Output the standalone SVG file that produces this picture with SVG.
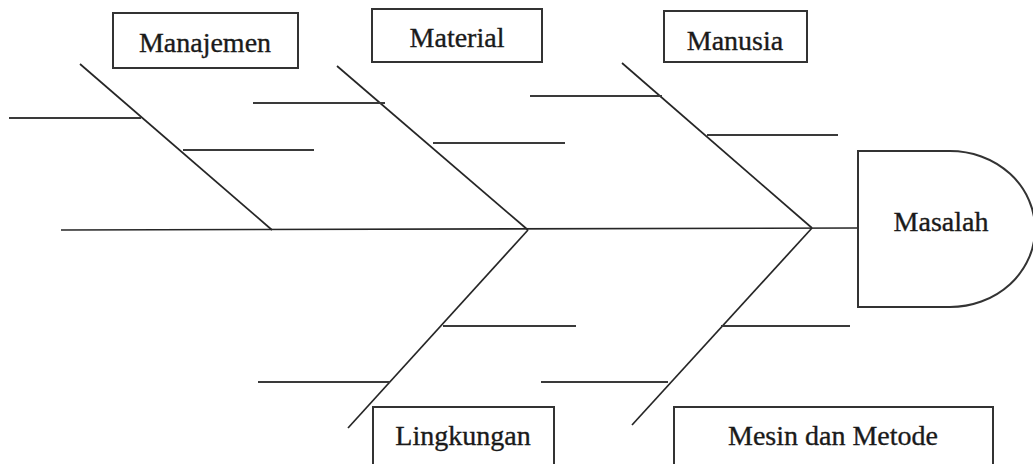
<svg xmlns="http://www.w3.org/2000/svg" width="1033" height="464" viewBox="0 0 1033 464">
<style>
.bone{stroke:#262626;stroke-width:1.7;fill:none;stroke-linecap:butt}
.sub{stroke:#3a3a3a;stroke-width:2;fill:none}
.box{fill:#ffffff;stroke:#333333;stroke-width:2}
.lbl{font-family:"Liberation Serif","Times New Roman",serif;font-size:28px;fill:#1a1a1a;stroke:#1a1a1a;stroke-width:0.35;text-anchor:middle}
</style>
<rect width="1033" height="464" fill="#ffffff"/>
<g id="connectors">
<line class="bone" x1="61" y1="230" x2="858" y2="228"/>
<line class="bone" x1="80" y1="64" x2="272" y2="230"/>
<line class="sub" x1="9" y1="118" x2="141" y2="118"/>
<line class="sub" x1="183" y1="150" x2="314" y2="150"/>
<line class="bone" x1="337" y1="66" x2="528" y2="230"/>
<line class="sub" x1="253" y1="103" x2="385" y2="103"/>
<line class="sub" x1="433" y1="143" x2="565" y2="143"/>
<line class="bone" x1="622" y1="63" x2="812" y2="228"/>
<line class="sub" x1="530" y1="96" x2="662" y2="96"/>
<line class="sub" x1="707" y1="135" x2="838" y2="135"/>
<line class="bone" x1="528" y1="230" x2="348" y2="428"/>
<line class="sub" x1="443" y1="326" x2="576" y2="326"/>
<line class="sub" x1="258" y1="382" x2="390" y2="382"/>
<line class="bone" x1="812" y1="228" x2="632" y2="425"/>
<line class="sub" x1="721" y1="326" x2="850" y2="326"/>
<line class="sub" x1="541" y1="382" x2="668" y2="382"/>
</g>
<g id="manajemen">
<rect class="box" x="113" y="13" width="185" height="55"/>
<text class="lbl" x="205" y="52">Manajemen</text>
</g>
<g id="material">
<rect class="box" x="372" y="9" width="170" height="53"/>
<text class="lbl" x="457" y="47">Material</text>
</g>
<g id="manusia">
<rect class="box" x="664" y="11" width="143" height="51"/>
<text class="lbl" x="735" y="50">Manusia</text>
</g>
<g id="masalah">
<path class="box" d="M858,151 H950 A85,78 0 0 1 950,307 H858 Z"/>
<text class="lbl" x="941" y="231">Masalah</text>
</g>
<g id="lingkungan">
<rect class="box" x="373" y="407" width="181" height="62"/>
<text class="lbl" x="463" y="445">Lingkungan</text>
</g>
<g id="mesin">
<rect class="box" x="674" y="407" width="319" height="62"/>
<text class="lbl" x="833" y="445">Mesin dan Metode</text>
</g>
</svg>
